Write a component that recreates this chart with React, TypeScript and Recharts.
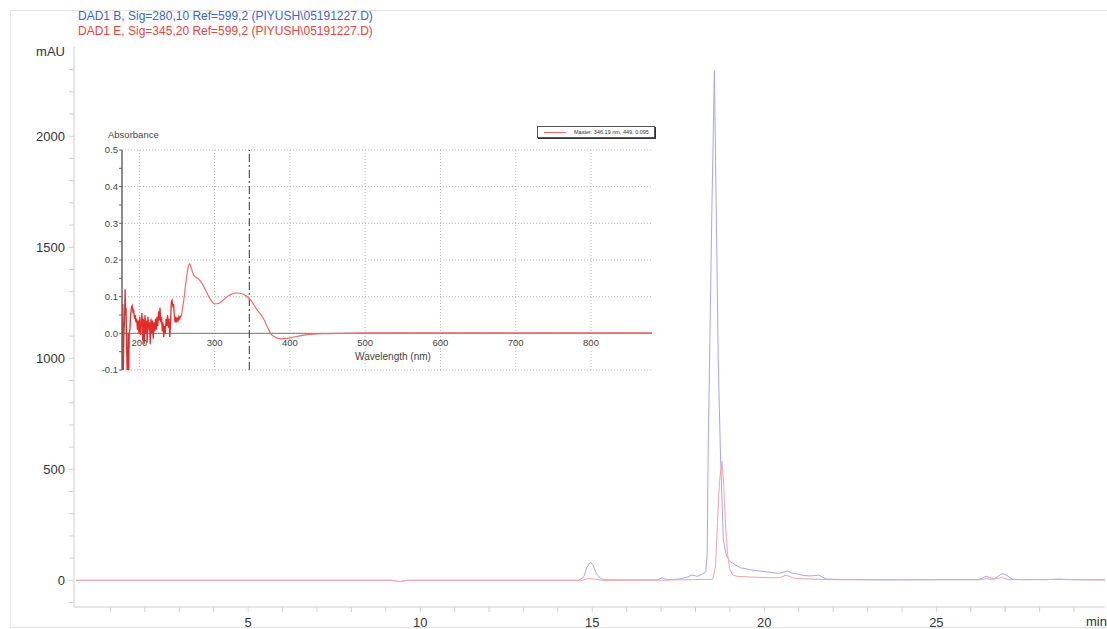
import React from 'react';
import { LineChart, Line, XAxis, YAxis, CartesianGrid, ReferenceLine } from 'recharts';

const FONT = '"Liberation Sans", Arial, sans-serif';

// Chromatogram, DAD1 B (Sig=280,10) — time (min) / mAU
const sig280Time = [0, 9.2, 9.35, 9.45, 9.6, 14.6, 14.75, 14.85, 14.94, 15.02, 15.12, 15.25, 15.4, 16.9, 17.03, 17.15, 17.5, 17.75, 17.9, 18.05, 18.2, 18.3, 18.34, 18.37, 18.41, 18.48, 18.55, 18.6, 18.66, 18.72, 18.81, 18.9, 19.0, 19.3, 19.7, 20.1, 20.4, 20.55, 20.68, 20.8, 20.9, 21.0, 21.15, 21.35, 21.5, 21.57, 21.65, 21.8, 22.2, 23.5, 25.0, 26.2, 26.35, 26.45, 26.55, 26.7, 26.86, 26.94, 27.05, 27.2, 27.5, 28.2, 28.55, 28.9, 29.9];
const sig280Mau = [0, 0, -5, -5, 0, 0, 15, 60, 82, 70, 30, 8, 2, 2, 12, 3, 5, 14, 24, 18, 28, 39, 120, 600, 1000, 1700, 2295, 1700, 1000, 600, 180, 110, 85, 57, 45, 38, 31, 37, 42, 33, 30, 27, 22, 20, 22, 24, 18, 6, 4, 2, 3, 3, 10, 19, 12, 8, 26, 30, 22, 6, 3, 3, 6, 3, 2];

// Chromatogram, DAD1 E (Sig=345,20)
const sig345Time = [0, 9.2, 9.35, 9.45, 9.6, 14.7, 14.9, 15.1, 15.3, 17.0, 17.8, 18.3, 18.5, 18.58, 18.64, 18.7, 18.77, 18.82, 18.87, 18.93, 19.0, 19.08, 19.2, 19.6, 20.2, 20.45, 20.6, 20.7, 20.85, 21.0, 21.5, 22, 26.3, 26.45, 26.6, 26.9, 27.1, 28.5, 29.9];
const sig345Mau = [0, 0, -5, -5, 0, 0, 8, 5, 0, 1, 3, 4, 5, 60, 260, 450, 536, 430, 260, 120, 50, 25, 18, 15, 12, 12, 22, 20, 10, 8, 5, 3, 3, 8, 4, 12, 3, 4, 2];

const xTicks = [1, 2, 3, 4, 5, 6, 7, 8, 9, 10, 11, 12, 13, 14, 15, 16, 17, 18, 19, 20, 21, 22, 23, 24, 25, 26, 27, 28, 29];
const xLabels = [5, 10, 15, 20, 25];
const yTicks = [-100, 0, 100, 200, 300, 400, 500, 600, 700, 800, 900, 1000, 1100, 1200, 1300, 1400, 1500, 1600, 1700, 1800, 1900, 2000, 2100, 2200, 2300];
const yLabels = [0, 500, 1000, 1500, 2000];

// Inset UV spectrum
const noiseNm = [177, 177.6, 178.2, 178.8, 179.5, 180.3, 181.2, 181.8, 182.4, 183, 183.8, 184.6, 185.2, 186, 186.6, 187.5, 188.5, 189.5, 190.5, 191.5, 192.5, 193.5, 194.5, 195.5, 196.5, 197.5, 198.5, 199.5, 200.5, 201.5, 202.5, 203.5, 204.5, 205.5, 206.5, 207.5, 208.5, 209.5, 210.5, 211.5, 212.5, 213.5, 214.5, 215.5, 216.5, 217.5, 218.5, 219.5, 220.5, 221.5, 222.5, 223.5, 224.5, 225.5, 226.5, 227.5, 228.5, 229.5, 230.5, 231.5, 232.5, 233.5, 234.5, 235.5, 236.5, 237.5, 238.5, 239.5, 240.5, 241.5, 242.5, 243.5, 244.5, 245.5, 246.5, 247.5, 248.5, 249.5, 250.5, 251.5, 252.5, 253.5, 254.5, 256];
const noiseAbs = [-0.1, 0.0, 0.08, -0.1, 0.0, 0.03, 0.12, 0.05, 0.07, -0.02, -0.1, -0.1, 0.0, -0.1, 0.0, 0.01, 0.05, 0.07, 0.075, 0.06, 0.065, 0.04, 0.05, 0.03, 0.04, 0.01, 0.035, 0.0, 0.045, -0.005, 0.03, 0.055, -0.02, 0.04, -0.03, 0.05, 0.0, 0.035, -0.025, 0.045, 0.01, 0.03, -0.03, 0.04, 0.0, 0.035, -0.015, 0.03, 0.005, 0.04, 0.01, 0.045, 0.02, 0.06, 0.035, 0.07, 0.03, 0.045, 0.005, 0.03, -0.01, 0.02, 0.0, 0.04, 0.02, 0.05, 0.015, 0.04, -0.01, 0.03, 0.085, 0.09, 0.075, 0.08, 0.05, 0.03, 0.045, 0.03, 0.04, 0.035, 0.045, 0.04, 0.045, 0.05];
const smoothNm = [256, 259, 262, 264.5, 266.7, 269, 272, 275, 279, 283, 288, 294, 300, 306, 312, 319, 325, 330, 336, 342, 346, 350, 355, 360, 365, 370, 375, 380, 388, 396, 405, 415, 428, 445, 470, 500, 550, 600, 650, 700, 750, 800, 850, 881];
const smoothAbs = [0.05, 0.09, 0.14, 0.175, 0.19, 0.178, 0.16, 0.153, 0.148, 0.137, 0.118, 0.094, 0.08, 0.082, 0.092, 0.103, 0.109, 0.11, 0.108, 0.102, 0.095, 0.085, 0.068, 0.055, 0.04, 0.018, -0.002, -0.01, -0.015, -0.014, -0.01, -0.006, -0.003, -0.001, 0, 0.001, 0.001, 0.001, 0.001, 0.001, 0.001, 0.001, 0.001, 0.001];

const insetXTicks = [200, 300, 400, 500, 600, 700, 800];
const insetYTicks = [-0.1, -0.05, 0, 0.05, 0.1, 0.15, 0.2, 0.25, 0.3, 0.35, 0.4, 0.45, 0.5];
const insetYGrid = [-0.1, 0, 0.1, 0.2, 0.3, 0.4, 0.5];
const masterNm = 346.19;

const zip = (xs: number[], ys: number[]) => xs.map((x, i) => ({ x, y: ys[i] }));
const sig280 = zip(sig280Time, sig280Mau);
const sig345 = zip(sig345Time, sig345Mau);
const noise = zip(noiseNm, noiseAbs);
const smooth = zip(smoothNm, smoothAbs);

const InsetXTick = (props: any) => {
  const { x, y, payload } = props;
  return (
    <text x={x} y={y - 27} dy="0.35em" textAnchor="middle" fontSize={9.5} fill="#444" fontFamily={FONT}>
      {payload.value}
    </text>
  );
};

export default function App() {
  return (
    <div style={{ position: 'absolute', left: 0, top: 0, width: 1107, height: 629, background: '#fff', fontFamily: FONT, overflow: 'hidden' }}>
      <div style={{ position: 'absolute', left: 10, top: 10, width: 1096, height: 616, border: '1px solid #e4e4e4' }} />
      <div style={{ position: 'absolute', left: 78, top: 9, fontSize: 12, lineHeight: '14px', color: '#3a62d8', whiteSpace: 'nowrap' }}>
        {'DAD1 B, Sig=280,10 Ref=599,2 (PIYUSH\\05191227.D)'}
      </div>
      <div style={{ position: 'absolute', left: 78, top: 24, fontSize: 12, lineHeight: '14px', color: '#e5443a', whiteSpace: 'nowrap' }}>
        {'DAD1 E, Sig=345,20 Ref=599,2 (PIYUSH\\05191227.D)'}
      </div>
      <div style={{ position: 'absolute', left: 20, width: 45, top: 44, textAlign: 'right', fontSize: 13, lineHeight: '16px', color: '#333' }}>mAU</div>
      <div style={{ position: 'absolute', left: 1086, top: 614, fontSize: 13, lineHeight: '16px', color: '#333' }}>min</div>

      <div style={{ position: 'absolute', left: 0, top: 0 }}>
        <LineChart width={1107} height={629} margin={{ top: 47, right: 2, bottom: 0, left: 0 }}>
          <XAxis
            type="number"
            dataKey="x"
            domain={[-0.06, 29.9]}
            ticks={xTicks}
            interval={0}
            allowDataOverflow
            height={22}
            tickSize={5}
            tickMargin={6}
            axisLine={{ stroke: '#cfcfcf' }}
            tickLine={{ stroke: '#cfcfcf' }}
            tick={{ fill: '#333', fontSize: 13, fontFamily: FONT }}
            tickFormatter={(v: number) => (xLabels.includes(v) ? String(v) : '')}
          />
          <YAxis
            type="number"
            dataKey="y"
            domain={[-120, 2402]}
            ticks={yTicks}
            interval={0}
            allowDataOverflow
            width={74}
            tickSize={5}
            tickMargin={4}
            axisLine={{ stroke: '#cfcfcf' }}
            tickLine={{ stroke: '#cfcfcf' }}
            tick={{ fill: '#333', fontSize: 13, fontFamily: FONT }}
            tickFormatter={(v: number) => (yLabels.includes(v) ? String(v) : '')}
          />
          <Line data={sig280} dataKey="y" type="linear" stroke="#a4a4fa" strokeWidth={1} dot={false} isAnimationActive={false} />
          <Line data={sig345} dataKey="y" type="linear" stroke="#f4a4a4" strokeWidth={1} dot={false} isAnimationActive={false} />
        </LineChart>
      </div>

      <div style={{ position: 'absolute', left: 108, top: 129, fontSize: 9.5, lineHeight: '12px', color: '#444' }}>Absorbance</div>
      <div style={{ position: 'absolute', left: 343, top: 351, width: 100, textAlign: 'center', fontSize: 10, lineHeight: '12px', color: '#444' }}>Wavelength (nm)</div>

      <div style={{ position: 'absolute', left: 60, top: 120 }}>
        <LineChart width={600} height={260} margin={{ top: 30, right: 8, bottom: 0, left: 0 }}>
          <CartesianGrid stroke="#b8b8b8" strokeDasharray="1 2" horizontalValues={insetYGrid} verticalValues={insetXTicks} />
          <XAxis
            type="number"
            dataKey="x"
            domain={[177, 881]}
            ticks={insetXTicks}
            interval={0}
            allowDataOverflow
            height={10}
            tickSize={0}
            tickMargin={0}
            axisLine={false}
            tickLine={false}
            tick={<InsetXTick />}
          />
          <YAxis
            type="number"
            dataKey="y"
            domain={[-0.1, 0.5]}
            ticks={insetYTicks}
            interval={0}
            allowDataOverflow
            width={62}
            tickSize={3}
            tickMargin={1}
            axisLine={{ stroke: '#666', strokeWidth: 1.5 }}
            tickLine={{ stroke: '#666' }}
            tick={{ fill: '#444', fontSize: 9.5, fontFamily: FONT }}
            tickFormatter={(v: number) => (Math.abs(Math.round(v * 10) - v * 10) < 1e-6 ? v.toFixed(1) : '')}
          />
          <ReferenceLine y={0} stroke="#777" strokeWidth={1} />
          <ReferenceLine x={masterNm} stroke="#555" strokeWidth={1.2} strokeDasharray="8 3 2 3" />
          <Line data={noise} dataKey="y" type="linear" stroke="#e52a2a" strokeWidth={1.3} dot={false} isAnimationActive={false} />
          <Line data={smooth} dataKey="y" type="monotone" stroke="#f26a6a" strokeWidth={1.2} dot={false} isAnimationActive={false} />
        </LineChart>
      </div>

      <div style={{ position: 'absolute', left: 537, top: 126, width: 116, height: 10, border: '1px solid #555', boxShadow: '1px 1px 0 #333', background: '#fff', display: 'flex', alignItems: 'center' }}>
        <div style={{ marginLeft: 6, width: 22, height: 1, background: '#f06a6a' }} />
        <div style={{ marginLeft: 8, fontSize: 5.5, lineHeight: '10px', color: '#333', whiteSpace: 'nowrap' }}>Master: 346.19 nm, 449, 0.095</div>
      </div>
    </div>
  );
}
